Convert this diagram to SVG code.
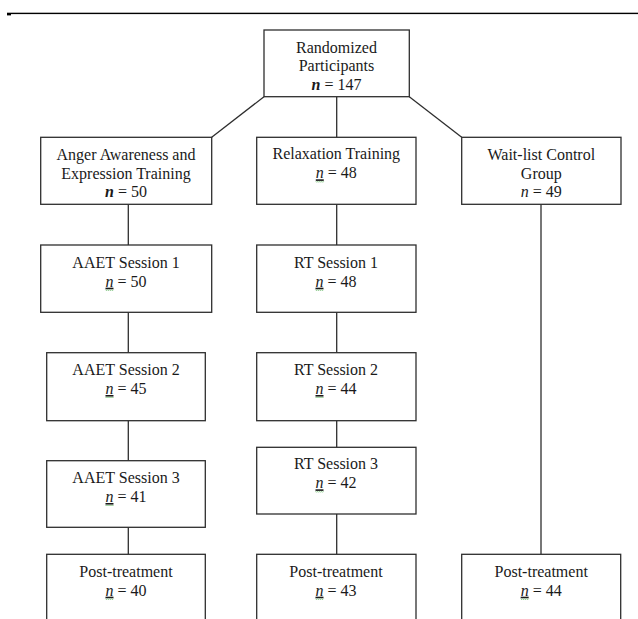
<svg xmlns="http://www.w3.org/2000/svg" width="638" height="619" viewBox="0 0 638 619">
<style>
.box{fill:#fff;stroke:#2e2e2e;stroke-width:1.3}
.ln{fill:none;stroke:#2e2e2e;stroke-width:1.3}
text{font-family:"Liberation Serif","Times New Roman",serif;font-size:16px;fill:#1a1a1a;text-anchor:middle}
.ni{font-style:italic}
.nb{font-style:italic;font-weight:bold}
.nu{font-style:italic;text-decoration:underline}
.sq{fill:none;stroke:#7fc47f;stroke-width:0.9}
</style>
<defs>
<path id="squig" d="M0,0 l1,1 l1,-1 l1,1 l1,-1 l1,1 l1,-1 l1,1 l1,-1"/>
</defs>
<rect x="7" y="12.7" width="631" height="1.4" fill="#000"/>
<rect x="7" y="13" width="4" height="2.4" fill="#000"/>
<g id="connectors">
<line class="ln" x1="264" y1="96.7" x2="211.7" y2="137.3"/>
<line class="ln" x1="336.7" y1="96.7" x2="336.7" y2="137.3"/>
<line class="ln" x1="409.3" y1="96.7" x2="461.7" y2="137.3"/>
<line class="ln" x1="128.3" y1="204.3" x2="128.3" y2="245"/>
<line class="ln" x1="128.3" y1="312.3" x2="128.3" y2="352.7"/>
<line class="ln" x1="128.3" y1="420.7" x2="128.3" y2="460.7"/>
<line class="ln" x1="128.3" y1="527.3" x2="128.3" y2="554.3"/>
<line class="ln" x1="336.7" y1="204.3" x2="336.7" y2="245"/>
<line class="ln" x1="336.7" y1="312.3" x2="336.7" y2="352.7"/>
<line class="ln" x1="336.7" y1="420.7" x2="336.7" y2="447.3"/>
<line class="ln" x1="336.7" y1="514" x2="336.7" y2="554.3"/>
<line class="ln" x1="541" y1="204.3" x2="541" y2="554.3"/>
</g>
<g id="randomized">
<rect class="box" x="264" y="30" width="145.3" height="66.7"/>
<text x="336.5" y="52.5">Randomized</text>
<text x="336.5" y="71.3">Participants</text>
<text x="336.5" y="90"><tspan class="nb">n</tspan> = 147</text>
</g>
<g id="aaet">
<rect class="box" x="40.7" y="137.3" width="171" height="67"/>
<text x="126" y="159.6">Anger Awareness and</text>
<text x="126" y="178.6">Expression Training</text>
<text x="126" y="197.4"><tspan class="nb">n</tspan> = 50</text>
</g>
<g id="relaxation">
<rect class="box" x="256.7" y="137.3" width="159.3" height="67"/>
<text x="336.3" y="159.3">Relaxation Training</text>
<text x="336.3" y="178.3"><tspan class="nu">n</tspan> = 48</text>
<use href="#squig" class="sq" x="315.8" y="181.3"/>
</g>
<g id="waitlist">
<rect class="box" x="461.7" y="137.3" width="159.3" height="67"/>
<text x="541.3" y="159.6">Wait-list Control</text>
<text x="541.3" y="178.6">Group</text>
<text x="541.3" y="197.4"><tspan class="ni">n</tspan> = 49</text>
</g>
<g id="aaet-s1">
<rect class="box" x="40.7" y="245" width="171" height="67.3"/>
<text x="126" y="267.7">AAET Session 1</text>
<text x="126" y="286.7"><tspan class="nu">n</tspan> = 50</text>
<use href="#squig" class="sq" x="105.5" y="289.7"/>
</g>
<g id="aaet-s2">
<rect class="box" x="46.7" y="352.7" width="158.6" height="68"/>
<text x="126" y="375">AAET Session 2</text>
<text x="126" y="394"><tspan class="nu">n</tspan> = 45</text>
<use href="#squig" class="sq" x="105.5" y="397"/>
</g>
<g id="aaet-s3">
<rect class="box" x="46.7" y="460.7" width="158.6" height="66.6"/>
<text x="126" y="483.3">AAET Session 3</text>
<text x="126" y="502"><tspan class="nu">n</tspan> = 41</text>
<use href="#squig" class="sq" x="105.5" y="505"/>
</g>
<g id="aaet-post">
<rect class="box" x="46.7" y="554.3" width="158.6" height="75"/>
<text x="126" y="576.7">Post-treatment</text>
<text x="126" y="595.7"><tspan class="nu">n</tspan> = 40</text>
<use href="#squig" class="sq" x="105.5" y="598.7"/>
</g>
<g id="rt-s1">
<rect class="box" x="256.7" y="245" width="159.3" height="67.3"/>
<text x="336" y="267.7">RT Session 1</text>
<text x="336" y="286.7"><tspan class="nu">n</tspan> = 48</text>
<use href="#squig" class="sq" x="315.5" y="289.7"/>
</g>
<g id="rt-s2">
<rect class="box" x="256.7" y="352.7" width="159.3" height="68"/>
<text x="336" y="375">RT Session 2</text>
<text x="336" y="394"><tspan class="nu">n</tspan> = 44</text>
<use href="#squig" class="sq" x="315.5" y="397"/>
</g>
<g id="rt-s3">
<rect class="box" x="256.7" y="447.3" width="159.3" height="66.7"/>
<text x="336" y="469.3">RT Session 3</text>
<text x="336" y="488.3"><tspan class="nu">n</tspan> = 42</text>
<use href="#squig" class="sq" x="315.5" y="491.3"/>
</g>
<g id="rt-post">
<rect class="box" x="256.7" y="554.3" width="159.3" height="75"/>
<text x="336" y="576.7">Post-treatment</text>
<text x="336" y="595.7"><tspan class="nu">n</tspan> = 43</text>
<use href="#squig" class="sq" x="315.5" y="598.7"/>
</g>
<g id="wl-post">
<rect class="box" x="461.7" y="554.3" width="159" height="75"/>
<text x="541.2" y="576.7">Post-treatment</text>
<text x="541.2" y="595.7"><tspan class="nu">n</tspan> = 44</text>
<use href="#squig" class="sq" x="520.7" y="598.7"/>
</g>
</svg>
